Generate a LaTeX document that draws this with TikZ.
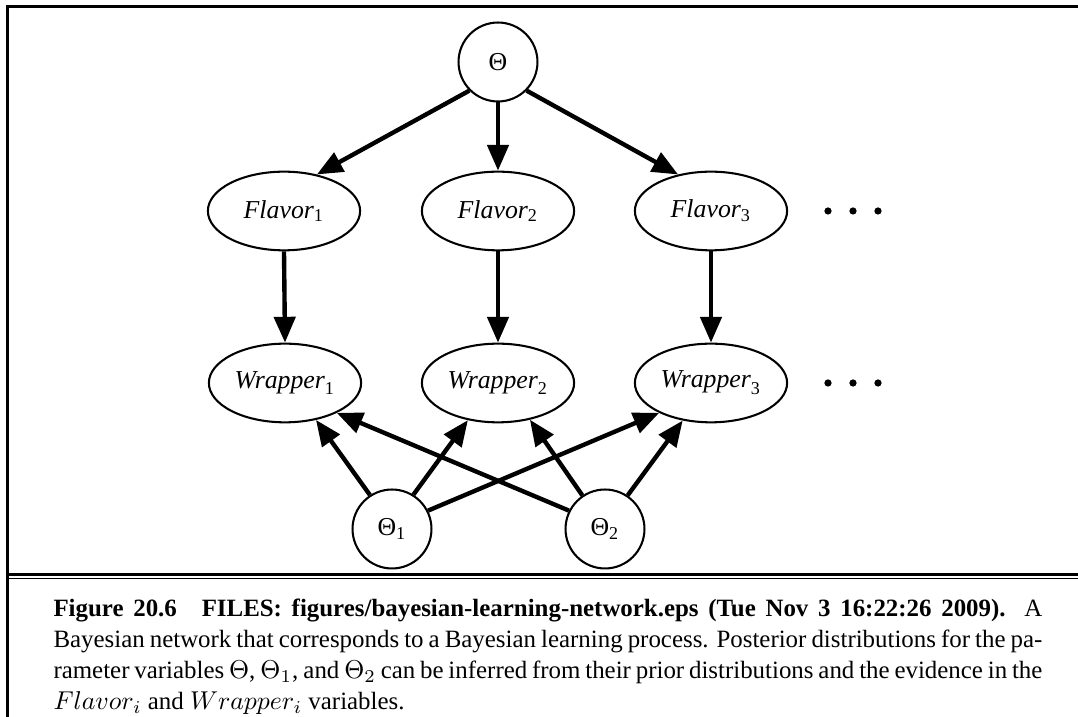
\documentclass[tikz,border=0pt]{standalone}
\usepackage{amsmath}
\usepackage{fontspec}
\setmainfont{Liberation Serif}
\usetikzlibrary{arrows.meta,shapes.geometric}
\tikzset{
  ell/.style={ellipse, draw, line width=0.8pt, minimum width=59pt, minimum height=30.5pt, inner sep=0pt},
  circ/.style={circle, draw, line width=0.8pt, minimum size=30.6pt, inner sep=0pt},
  arr/.style={line width=1.7pt, -{Triangle[length=10pt,width=8.2pt]}},
  dotmark/.style={fill=black},
}
\begin{document}
\begin{tikzpicture}[x=0.3876pt, y=-0.3876pt, font=\fontsize{10}{12}\selectfont]
\useasboundingbox (0,0) rectangle (1078,717);
% frame
\draw[line width=1.16pt] (6.5,7) -- (1078,7);
\draw[line width=0.97pt] (7.5,5.5) -- (7.5,717);
\draw[line width=1.05pt] (7,574.8) -- (1078,574.8);
\draw[line width=0.5pt] (7,578.2) -- (1078,578.2);
% nodes
\node[circ] (th) at (498,62) {Θ};
\node[ell] (f1) at (284,211) {$\textit{Flavor}_{\text{1}}$};
\node[ell] (f2) at (498,211) {$\textit{Flavor}_{\text{2}}$};
\node[ell] (f3) at (711,211) {$\textit{Flavor}_{\text{3}}$};
\node[ell] (w1) at (285,383) {$\textit{Wrapper}_{\text{1}}$};
\node[ell] (w2) at (498,383) {$\textit{Wrapper}_{\text{2}}$};
\node[ell] (w3) at (711,383) {$\textit{Wrapper}_{\text{3}}$};
\node[circ] (t1) at (392,529) {Θ$_{\text{1}}$};
\node[circ] (t2) at (605,529) {Θ$_{\text{2}}$};
% dots
\foreach \xx in {828,853,878}{
  \fill[dotmark] (\xx,211) circle[radius=1.4pt];
  \fill[dotmark] (\xx,383) circle[radius=1.4pt];
}
% edges
\draw[arr] (th.225) -- (f1.48);
\draw[arr] (th.south) -- (f2.north);
\draw[arr] (th.-45) -- (f3.132);
\draw[arr] (f1.south) -- (w1.north);
\draw[arr] (f2.south) -- (w2.north);
\draw[arr] (f3.south) -- (w3.north);
\draw[arr] (t1.123) -- (w1.310);
\draw[arr] (t1.58) -- (w2.231);
\draw[arr] (t1.27) -- (w3.210);
\draw[arr] (t2.153) -- (w1.330);
\draw[arr] (t2.124) -- (w2.311);
\draw[arr] (t2.56) -- (w3.233);
% caption
\node[anchor=base west, inner sep=0pt, text width=383.3pt, align=justify, font=\fontsize{9.65}{12}\selectfont] (cap) at (53,617)
{\hyphenpenalty=10000\textbf{Figure 20.6}\quad\textbf{FILES: figures/bayesian-learning-network.eps (Tue Nov 3 16:22:26 2009).} A\linebreak
Bayesian network that corresponds to a Bayesian learning process. Posterior distributions for the pa-\linebreak
rameter variables $\Theta$, $\Theta_1$, and $\Theta_2$ can be inferred from their prior distributions and the evidence in the\linebreak
$Flavor_i$ and $Wrapper_i$ variables.};
\end{tikzpicture}
\end{document}
